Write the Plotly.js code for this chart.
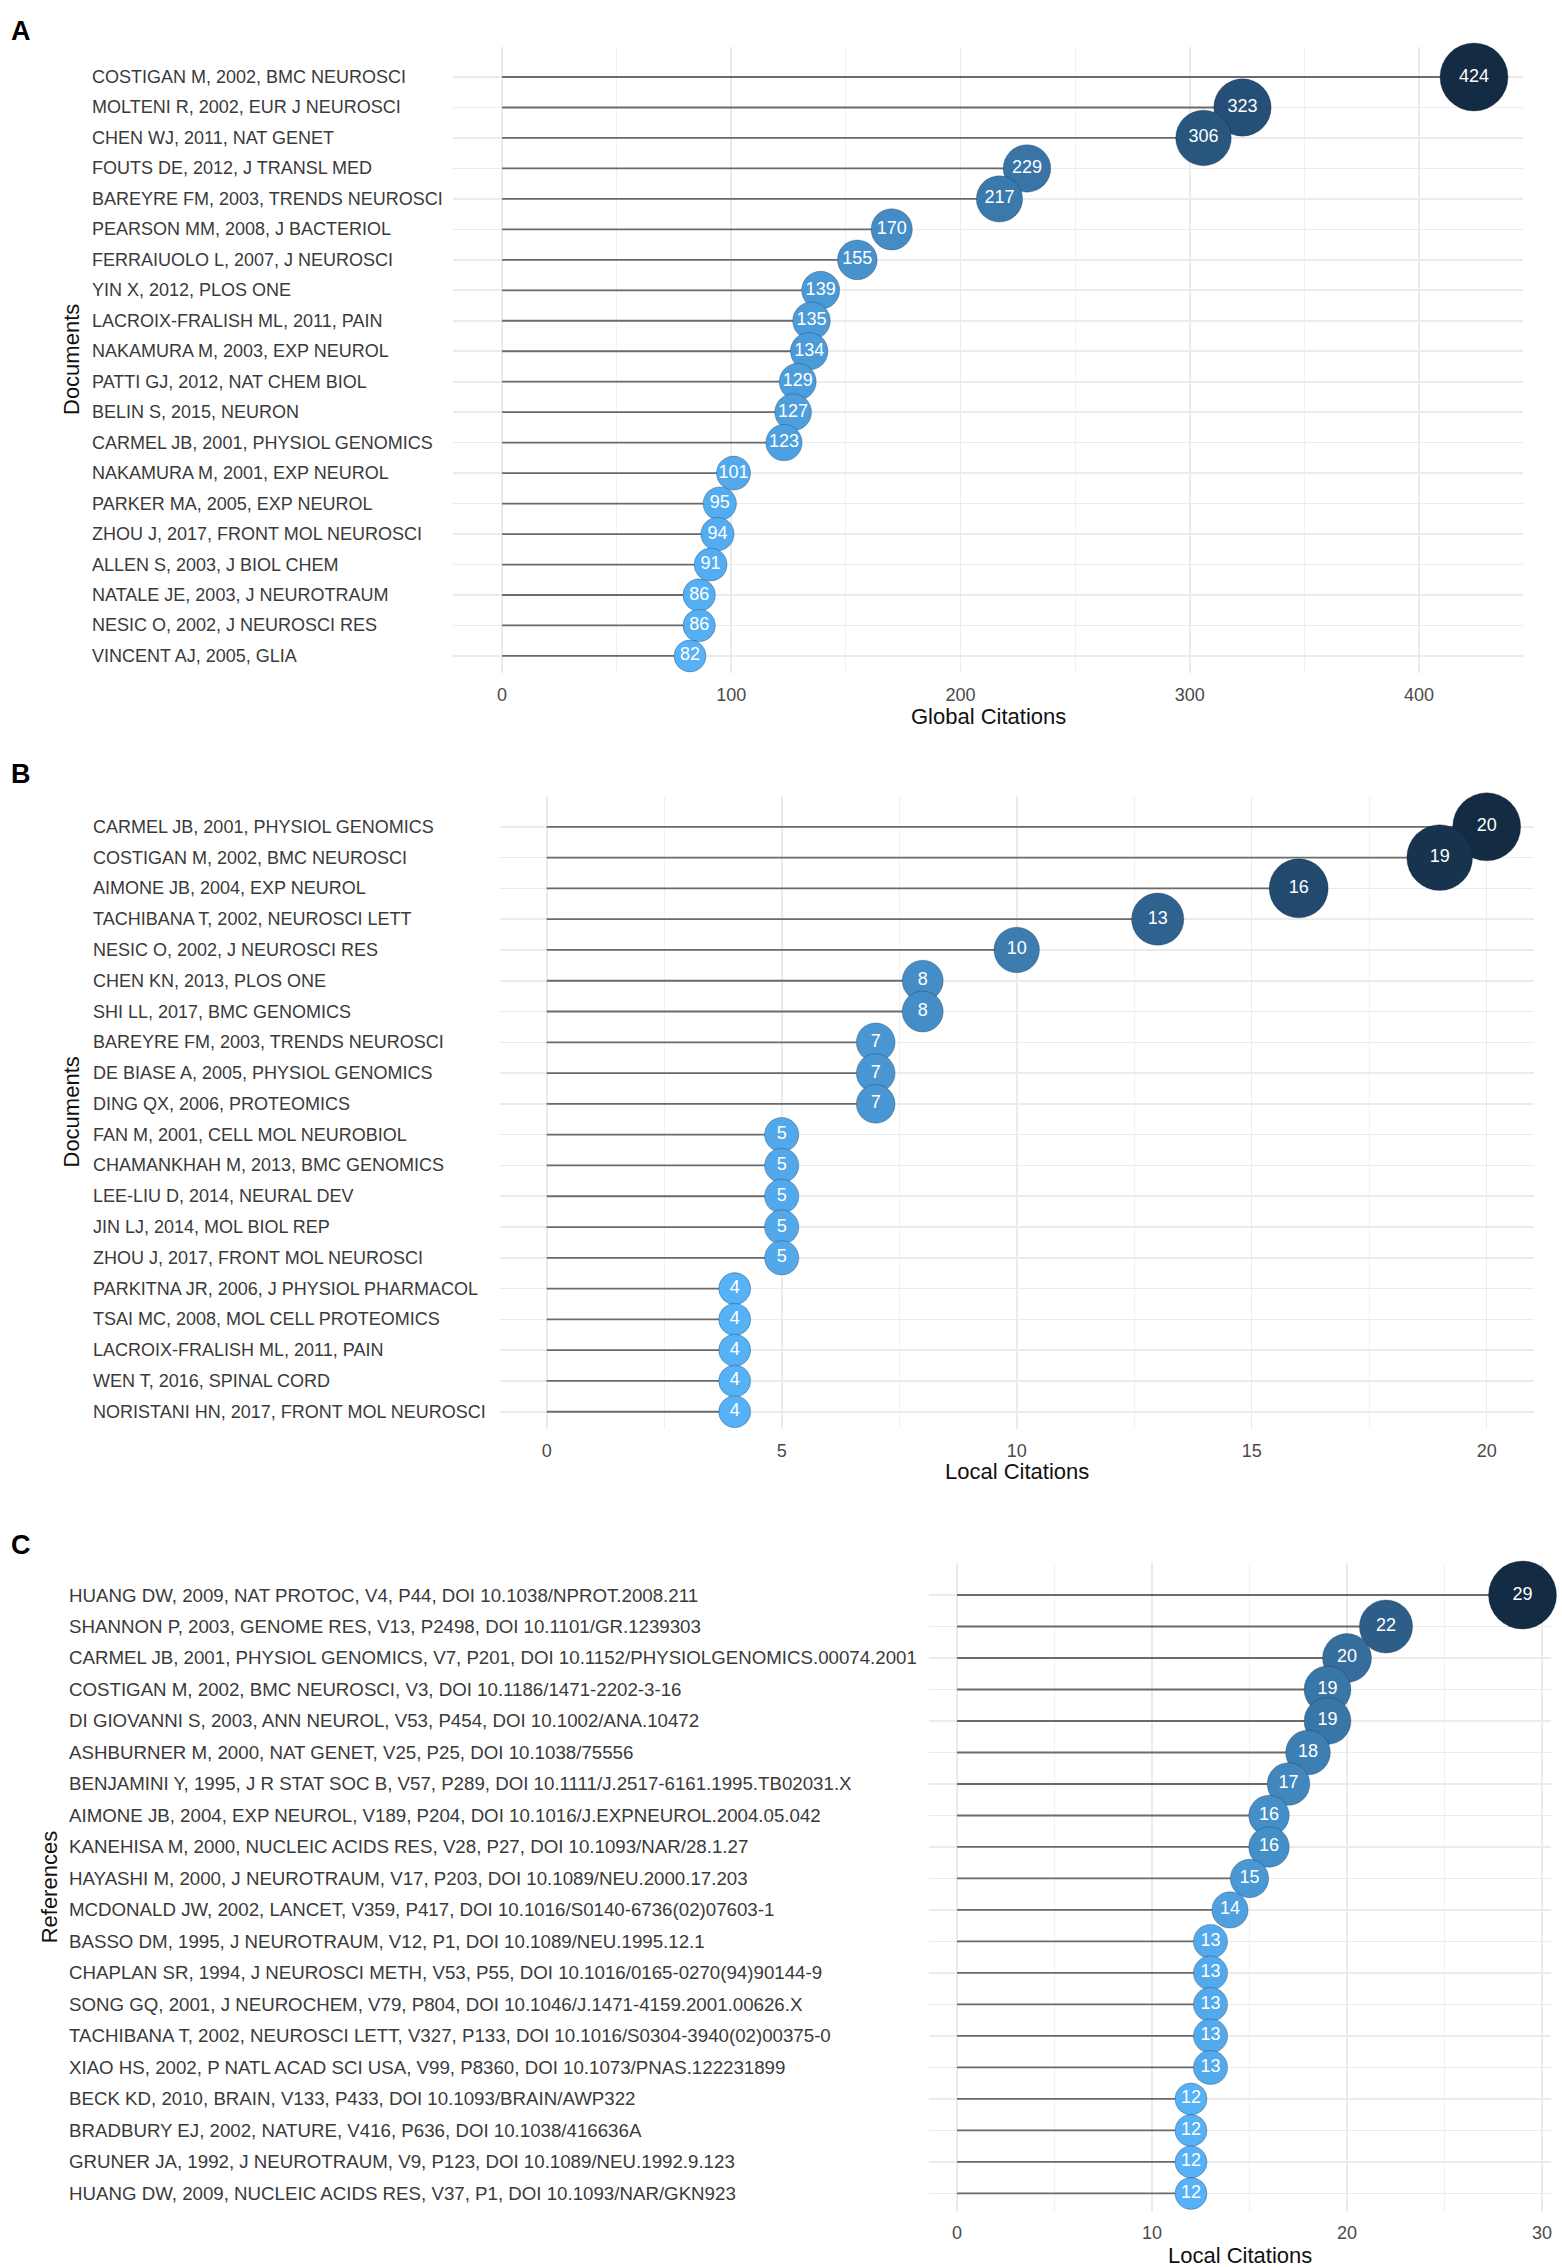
<!DOCTYPE html>
<html>
<head>
<meta charset="utf-8">
<script src="https://cdn.plot.ly/plotly-3.0.1.min.js"></script>
<style>html,body{margin:0;padding:0;background:#fff}#chart{width:1562px;height:2267px}</style>
</head>
<body>
<div id="chart"></div>
<script>
// ---------- DATA ----------
const docsA = [
  "COSTIGAN M, 2002, BMC NEUROSCI",
  "MOLTENI R, 2002, EUR J NEUROSCI",
  "CHEN WJ, 2011, NAT GENET",
  "FOUTS DE, 2012, J TRANSL MED",
  "BAREYRE FM, 2003, TRENDS NEUROSCI",
  "PEARSON MM, 2008, J BACTERIOL",
  "FERRAIUOLO L, 2007, J NEUROSCI",
  "YIN X, 2012, PLOS ONE",
  "LACROIX-FRALISH ML, 2011, PAIN",
  "NAKAMURA M, 2003, EXP NEUROL",
  "PATTI GJ, 2012, NAT CHEM BIOL",
  "BELIN S, 2015, NEURON",
  "CARMEL JB, 2001, PHYSIOL GENOMICS",
  "NAKAMURA M, 2001, EXP NEUROL",
  "PARKER MA, 2005, EXP NEUROL",
  "ZHOU J, 2017, FRONT MOL NEUROSCI",
  "ALLEN S, 2003, J BIOL CHEM",
  "NATALE JE, 2003, J NEUROTRAUM",
  "NESIC O, 2002, J NEUROSCI RES",
  "VINCENT AJ, 2005, GLIA"
];
const globalCitationsA = [424, 323, 306, 229, 217, 170, 155, 139, 135, 134, 129, 127, 123, 101, 95, 94, 91, 86, 86, 82];

const docsB = [
  "CARMEL JB, 2001, PHYSIOL GENOMICS",
  "COSTIGAN M, 2002, BMC NEUROSCI",
  "AIMONE JB, 2004, EXP NEUROL",
  "TACHIBANA T, 2002, NEUROSCI LETT",
  "NESIC O, 2002, J NEUROSCI RES",
  "CHEN KN, 2013, PLOS ONE",
  "SHI LL, 2017, BMC GENOMICS",
  "BAREYRE FM, 2003, TRENDS NEUROSCI",
  "DE BIASE A, 2005, PHYSIOL GENOMICS",
  "DING QX, 2006, PROTEOMICS",
  "FAN M, 2001, CELL MOL NEUROBIOL",
  "CHAMANKHAH M, 2013, BMC GENOMICS",
  "LEE-LIU D, 2014, NEURAL DEV",
  "JIN LJ, 2014, MOL BIOL REP",
  "ZHOU J, 2017, FRONT MOL NEUROSCI",
  "PARKITNA JR, 2006, J PHYSIOL PHARMACOL",
  "TSAI MC, 2008, MOL CELL PROTEOMICS",
  "LACROIX-FRALISH ML, 2011, PAIN",
  "WEN T, 2016, SPINAL CORD",
  "NORISTANI HN, 2017, FRONT MOL NEUROSCI"
];
const localCitationsB = [20, 19, 16, 13, 10, 8, 8, 7, 7, 7, 5, 5, 5, 5, 5, 4, 4, 4, 4, 4];

const refsC = [
  "HUANG DW, 2009, NAT PROTOC, V4, P44, DOI 10.1038/NPROT.2008.211",
  "SHANNON P, 2003, GENOME RES, V13, P2498, DOI 10.1101/GR.1239303",
  "CARMEL JB, 2001, PHYSIOL GENOMICS, V7, P201, DOI 10.1152/PHYSIOLGENOMICS.00074.2001",
  "COSTIGAN M, 2002, BMC NEUROSCI, V3, DOI 10.1186/1471-2202-3-16",
  "DI GIOVANNI S, 2003, ANN NEUROL, V53, P454, DOI 10.1002/ANA.10472",
  "ASHBURNER M, 2000, NAT GENET, V25, P25, DOI 10.1038/75556",
  "BENJAMINI Y, 1995, J R STAT SOC B, V57, P289, DOI 10.1111/J.2517-6161.1995.TB02031.X",
  "AIMONE JB, 2004, EXP NEUROL, V189, P204, DOI 10.1016/J.EXPNEUROL.2004.05.042",
  "KANEHISA M, 2000, NUCLEIC ACIDS RES, V28, P27, DOI 10.1093/NAR/28.1.27",
  "HAYASHI M, 2000, J NEUROTRAUM, V17, P203, DOI 10.1089/NEU.2000.17.203",
  "MCDONALD JW, 2002, LANCET, V359, P417, DOI 10.1016/S0140-6736(02)07603-1",
  "BASSO DM, 1995, J NEUROTRAUM, V12, P1, DOI 10.1089/NEU.1995.12.1",
  "CHAPLAN SR, 1994, J NEUROSCI METH, V53, P55, DOI 10.1016/0165-0270(94)90144-9",
  "SONG GQ, 2001, J NEUROCHEM, V79, P804, DOI 10.1046/J.1471-4159.2001.00626.X",
  "TACHIBANA T, 2002, NEUROSCI LETT, V327, P133, DOI 10.1016/S0304-3940(02)00375-0",
  "XIAO HS, 2002, P NATL ACAD SCI USA, V99, P8360, DOI 10.1073/PNAS.122231899",
  "BECK KD, 2010, BRAIN, V133, P433, DOI 10.1093/BRAIN/AWP322",
  "BRADBURY EJ, 2002, NATURE, V416, P636, DOI 10.1038/416636A",
  "GRUNER JA, 1992, J NEUROTRAUM, V9, P123, DOI 10.1089/NEU.1992.9.123",
  "HUANG DW, 2009, NUCLEIC ACIDS RES, V37, P1, DOI 10.1093/NAR/GKN923"
];
const localCitationsC = [29, 22, 20, 19, 19, 18, 17, 16, 16, 15, 14, 13, 13, 13, 13, 13, 12, 12, 12, 12];

const panelLetters = ["A", "B", "C"];
const xTitles = ["Global Citations", "Local Citations", "Local Citations"];
const yTitles = ["Documents", "Documents", "References"];
const xTicksA = [0, 100, 200, 300, 400];
const xTicksB = [0, 5, 10, 15, 20];
const xTicksC = [0, 10, 20, 30];

// ---------- LAYOUT CONSTANTS (pixels) ----------
const W = 1562, H = 2267;
const FONT = "Liberation Sans, Arial, Helvetica, sans-serif";
const px = v => v / W;
const py = v => 1 - v / H;

const panels = [
  {cats: docsA, vals: globalCitationsA, ticks: xTicksA, minor: 50, labelSize: 18,
   left: 453.4, right: 1522.6, top: 47, bottom: 673, xr: [-21.2, 445.2], yr: [19.56, -0.985],
   labelX: 90, yTitleX: 71, xTitleY: 716, letterY: 31},
  {cats: docsB, vals: localCitationsB, ticks: xTicksB, minor: 2.5, labelSize: 18,
   left: 499.7, right: 1533.7, top: 796, bottom: 1429, xr: [-1, 21], yr: [19.56, -1.0],
   labelX: 91, yTitleX: 71, xTitleY: 1471, letterY: 774},
  {cats: refsC, vals: localCitationsC, ticks: xTicksC, minor: 5, labelSize: 18.7,
   left: 928.7, right: 1550.8, top: 1563, bottom: 2211.7, xr: [-1.45, 30.45], yr: [19.58, -1.016],
   labelX: 67, yTitleX: 49, xTitleY: 2255, letterY: 1545}
];

const colorscale = [[0, '#56B1F7'], [0.25, '#448DC6'], [0.5, '#336A98'], [0.75, '#22496E'], [1, '#132B43']];
const DMIN = 32, DMAX = 68;

const traces = [];
const annotations = [];
const layout = {
  width: W, height: H,
  margin: {l: 0, r: 0, t: 0, b: 0},
  paper_bgcolor: '#ffffff', plot_bgcolor: '#ffffff',
  showlegend: false,
  font: {family: FONT, color: '#3a3a3a'}
};

panels.forEach((p, k) => {
  const sfx = k === 0 ? '' : String(k + 1);
  const xa = 'x' + sfx, ya = 'y' + sfx;
  const vmin = Math.min(...p.vals), vmax = Math.max(...p.vals);

  // segments from 0 to value
  const sx = [], sy = [];
  p.cats.forEach((c, i) => { sx.push(0, p.vals[i], null); sy.push(c, c, null); });
  traces.push({type: 'scatter', mode: 'lines', x: sx, y: sy, xaxis: xa, yaxis: ya,
    line: {color: '#6b6b6b', width: 1.8}, hoverinfo: 'skip', cliponaxis: false});

  // bubbles
  const sizes = p.vals.map(v => DMIN + (v - vmin) / (vmax - vmin) * (DMAX - DMIN));
  traces.push({type: 'scatter', mode: 'markers+text', x: p.vals, y: p.cats, xaxis: xa, yaxis: ya,
    text: p.vals.map(String), textposition: 'middle center',
    textfont: {family: FONT, size: 18, color: '#ffffff'},
    marker: {size: sizes, color: p.vals, colorscale: colorscale, cmin: vmin, cmax: vmax,
             opacity: 1, line: {width: 0.8, color: 'rgba(10,25,45,0.35)'}},
    cliponaxis: false, hoverinfo: 'x+y'});

  layout['xaxis' + sfx] = {
    domain: [px(p.left), px(p.right)], anchor: ya, range: p.xr,
    tickmode: 'array', tickvals: p.ticks, ticktext: p.ticks.map(String),
    showgrid: true, gridcolor: '#EBEBEB', gridwidth: 1.6,
    minor: {dtick: p.minor, tick0: 0, showgrid: true, gridcolor: '#F1F1F1', gridwidth: 1.2},
    zeroline: false, showline: false,
    ticks: 'outside', ticklen: 5, tickcolor: 'rgba(0,0,0,0)',
    tickfont: {family: FONT, size: 18, color: '#4a4a4a'},
    fixedrange: true
  };
  layout['yaxis' + sfx] = {
    domain: [py(p.bottom), py(p.top)], anchor: xa,
    type: 'category', categoryorder: 'array', categoryarray: p.cats,
    range: p.yr, showticklabels: false, ticks: '',
    showgrid: true, gridcolor: '#EBEBEB', gridwidth: 1.6,
    zeroline: false, showline: false, fixedrange: true
  };

  // left-aligned row labels
  p.cats.forEach(c => annotations.push({
    xref: 'paper', x: px(p.labelX), xanchor: 'left',
    yref: ya, y: c, yanchor: 'middle', text: c, showarrow: false,
    font: {family: FONT, size: p.labelSize, color: '#3a3a3a'}
  }));

  // axis titles
  annotations.push({xref: xa + ' domain', x: 0.5, xanchor: 'center',
    yref: 'paper', y: py(p.xTitleY), yanchor: 'middle', text: xTitles[k], showarrow: false,
    font: {family: FONT, size: 22, color: '#111111'}});
  annotations.push({xref: 'paper', x: px(p.yTitleX), xanchor: 'center',
    yref: ya + ' domain', y: 0.5, yanchor: 'middle', text: yTitles[k], textangle: -90, showarrow: false,
    font: {family: FONT, size: 22, color: '#111111'}});

  // panel letter
  annotations.push({xref: 'paper', x: px(21), xanchor: 'center',
    yref: 'paper', y: py(p.letterY), yanchor: 'middle', text: '<b>' + panelLetters[k] + '</b>', showarrow: false,
    font: {family: FONT, size: 27, color: '#000000'}});
});

layout.annotations = annotations;
Plotly.newPlot('chart', traces, layout, {staticPlot: true, displayModeBar: false});
</script>
</body>
</html>
